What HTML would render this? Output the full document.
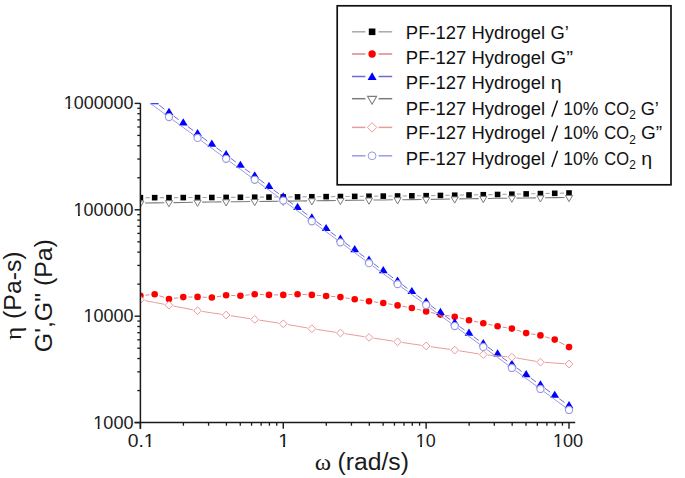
<!DOCTYPE html>
<html><head><meta charset="utf-8"><style>
html,body{margin:0;padding:0;background:#fff;}
body{width:685px;height:478px;overflow:hidden;font-family:"Liberation Sans",sans-serif;}
svg{position:absolute;left:0;top:0;display:block;}
</style></head><body>
<svg width="685" height="478" viewBox="0 0 685 478">
<defs><clipPath id="pc"><rect x="140.4" y="103.3" width="434.6" height="319.3"/></clipPath></defs>
<rect width="685" height="478" fill="#fff"/>
<g clip-path="url(#pc)">
<path d="M145.40 197.69L149.69 197.67M159.69 197.65L163.97 197.63M173.97 197.61L178.26 197.59M188.26 197.57L192.55 197.55M202.55 197.53L206.84 197.51M216.83 197.47L221.12 197.43M231.12 197.37L235.41 197.33M245.41 197.27L249.70 197.23M259.70 197.17L263.98 197.13M273.98 197.07L278.27 197.03M288.27 196.96L292.56 196.92M302.56 196.84L306.84 196.80M316.84 196.72L321.13 196.68M331.13 196.60L335.42 196.56M345.42 196.48L349.71 196.44M359.70 196.35L363.99 196.31M373.99 196.21L378.28 196.17M388.28 196.07L392.57 196.03M402.57 195.93L406.85 195.89M416.85 195.79L421.14 195.75M431.14 195.62L435.43 195.54M445.43 195.38L449.71 195.30M459.71 195.14L464.00 195.06M474.00 194.90L478.29 194.82M488.29 194.66L492.58 194.58M502.57 194.40L506.86 194.30M516.86 194.10L521.15 194.00M531.15 193.80L535.44 193.70M545.43 193.50L549.72 193.40M559.72 193.20L564.01 193.10" fill="none" stroke="#a8a8a8" stroke-width="1.1"/>
<rect x="137.60" y="194.90" width="5.6" height="5.6" fill="#000"/>
<rect x="151.89" y="194.86" width="5.6" height="5.6" fill="#000"/>
<rect x="166.17" y="194.82" width="5.6" height="5.6" fill="#000"/>
<rect x="180.46" y="194.78" width="5.6" height="5.6" fill="#000"/>
<rect x="194.75" y="194.74" width="5.6" height="5.6" fill="#000"/>
<rect x="209.03" y="194.70" width="5.6" height="5.6" fill="#000"/>
<rect x="223.32" y="194.60" width="5.6" height="5.6" fill="#000"/>
<rect x="237.61" y="194.50" width="5.6" height="5.6" fill="#000"/>
<rect x="251.90" y="194.40" width="5.6" height="5.6" fill="#000"/>
<rect x="266.18" y="194.30" width="5.6" height="5.6" fill="#000"/>
<rect x="280.47" y="194.20" width="5.6" height="5.6" fill="#000"/>
<rect x="294.76" y="194.08" width="5.6" height="5.6" fill="#000"/>
<rect x="309.04" y="193.96" width="5.6" height="5.6" fill="#000"/>
<rect x="323.33" y="193.84" width="5.6" height="5.6" fill="#000"/>
<rect x="337.62" y="193.72" width="5.6" height="5.6" fill="#000"/>
<rect x="351.91" y="193.60" width="5.6" height="5.6" fill="#000"/>
<rect x="366.19" y="193.46" width="5.6" height="5.6" fill="#000"/>
<rect x="380.48" y="193.32" width="5.6" height="5.6" fill="#000"/>
<rect x="394.77" y="193.18" width="5.6" height="5.6" fill="#000"/>
<rect x="409.05" y="193.04" width="5.6" height="5.6" fill="#000"/>
<rect x="423.34" y="192.90" width="5.6" height="5.6" fill="#000"/>
<rect x="437.63" y="192.66" width="5.6" height="5.6" fill="#000"/>
<rect x="451.91" y="192.42" width="5.6" height="5.6" fill="#000"/>
<rect x="466.20" y="192.18" width="5.6" height="5.6" fill="#000"/>
<rect x="480.49" y="191.94" width="5.6" height="5.6" fill="#000"/>
<rect x="494.78" y="191.70" width="5.6" height="5.6" fill="#000"/>
<rect x="509.06" y="191.40" width="5.6" height="5.6" fill="#000"/>
<rect x="523.35" y="191.10" width="5.6" height="5.6" fill="#000"/>
<rect x="537.64" y="190.80" width="5.6" height="5.6" fill="#000"/>
<rect x="551.92" y="190.50" width="5.6" height="5.6" fill="#000"/>
<rect x="566.21" y="190.20" width="5.6" height="5.6" fill="#000"/>
<path d="M145.47 295.23L149.62 294.77M159.52 295.82L164.14 297.38M174.03 298.33L178.21 297.77M188.36 297.03L192.45 296.97M202.64 297.11L206.74 297.29M216.88 296.72L221.08 296.08M231.22 295.48L235.31 295.62M245.48 295.23L249.63 294.77M259.79 294.45L263.89 294.65M274.08 294.90L278.17 294.90M288.36 294.65L292.46 294.45M302.65 294.45L306.75 294.65M316.93 295.29L321.05 295.61M331.22 296.39L335.33 296.71M345.46 297.88L349.66 298.52M359.76 300.01L363.94 300.59M374.06 301.90L378.21 302.40M388.31 303.84L392.54 304.56M402.58 306.31L406.84 307.09M416.81 309.18L421.18 310.22M431.12 312.51L435.45 313.49M445.47 315.34L449.67 315.96M459.67 317.91L464.05 318.99M473.99 321.25L478.30 322.15M488.27 324.28L492.59 325.22M502.61 327.11L506.83 327.79M516.73 330.13L521.28 331.57M531.18 333.91L535.40 334.59M545.33 336.84L549.83 338.16M559.24 341.97L564.49 344.73" fill="none" stroke="#e08686" stroke-width="1.0"/>
<circle cx="140.40" cy="295.80" r="3.3" fill="#ff0000"/>
<circle cx="154.69" cy="294.20" r="3.3" fill="#ff0000"/>
<circle cx="168.97" cy="299.00" r="3.3" fill="#ff0000"/>
<circle cx="183.26" cy="297.10" r="3.3" fill="#ff0000"/>
<circle cx="197.55" cy="296.90" r="3.3" fill="#ff0000"/>
<circle cx="211.84" cy="297.50" r="3.3" fill="#ff0000"/>
<circle cx="226.12" cy="295.30" r="3.3" fill="#ff0000"/>
<circle cx="240.41" cy="295.80" r="3.3" fill="#ff0000"/>
<circle cx="254.70" cy="294.20" r="3.3" fill="#ff0000"/>
<circle cx="268.98" cy="294.90" r="3.3" fill="#ff0000"/>
<circle cx="283.27" cy="294.90" r="3.3" fill="#ff0000"/>
<circle cx="297.56" cy="294.20" r="3.3" fill="#ff0000"/>
<circle cx="311.84" cy="294.90" r="3.3" fill="#ff0000"/>
<circle cx="326.13" cy="296.00" r="3.3" fill="#ff0000"/>
<circle cx="340.42" cy="297.10" r="3.3" fill="#ff0000"/>
<circle cx="354.71" cy="299.30" r="3.3" fill="#ff0000"/>
<circle cx="368.99" cy="301.30" r="3.3" fill="#ff0000"/>
<circle cx="383.28" cy="303.00" r="3.3" fill="#ff0000"/>
<circle cx="397.57" cy="305.40" r="3.3" fill="#ff0000"/>
<circle cx="411.85" cy="308.00" r="3.3" fill="#ff0000"/>
<circle cx="426.14" cy="311.40" r="3.3" fill="#ff0000"/>
<circle cx="440.43" cy="314.60" r="3.3" fill="#ff0000"/>
<circle cx="454.71" cy="316.70" r="3.3" fill="#ff0000"/>
<circle cx="469.00" cy="320.20" r="3.3" fill="#ff0000"/>
<circle cx="483.29" cy="323.20" r="3.3" fill="#ff0000"/>
<circle cx="497.58" cy="326.30" r="3.3" fill="#ff0000"/>
<circle cx="511.86" cy="328.60" r="3.3" fill="#ff0000"/>
<circle cx="526.15" cy="333.10" r="3.3" fill="#ff0000"/>
<circle cx="540.44" cy="335.40" r="3.3" fill="#ff0000"/>
<circle cx="554.72" cy="339.60" r="3.3" fill="#ff0000"/>
<circle cx="569.01" cy="347.10" r="3.3" fill="#ff0000"/>
<path d="M144.90 94.61L150.19 98.53M159.17 105.21L164.49 109.19M173.47 115.88L178.76 119.80M187.76 126.47L193.05 130.40M202.04 137.08L207.34 141.02M216.34 147.69L221.61 151.57M230.63 158.22L235.91 162.12M244.92 168.77L250.19 172.66M259.20 179.31L264.48 183.22M273.49 189.87L278.77 193.77M287.78 200.42L293.05 204.31M302.06 210.95L307.34 214.85M316.35 221.50L321.63 225.40M330.64 232.05L335.91 235.94M344.92 242.60L350.20 246.50M359.22 253.14L364.47 256.99M373.51 263.60L378.76 267.45M387.80 274.06L393.05 277.91M402.08 284.53L407.33 288.37M416.37 294.99L421.62 298.84M430.67 305.44L435.90 309.25M444.96 315.84L450.19 319.65M459.24 326.24L464.47 330.04M473.53 336.63L478.76 340.44M487.82 347.03L493.05 350.83M502.11 357.40L507.32 361.17M516.40 367.73L521.61 371.50M530.69 378.06L535.90 381.83M544.97 388.39L550.18 392.16M559.26 398.72L564.47 402.49" fill="none" stroke="#6c6cd4" stroke-width="1.0"/>
<polygon points="140.40,86.47 144.80,93.67 136.00,93.67" fill="#0000ff"/>
<polygon points="154.69,97.06 159.09,104.26 150.29,104.26" fill="#0000ff"/>
<polygon points="168.97,107.74 173.37,114.94 164.57,114.94" fill="#0000ff"/>
<polygon points="183.26,118.33 187.66,125.53 178.86,125.53" fill="#0000ff"/>
<polygon points="197.55,128.94 201.95,136.14 193.15,136.14" fill="#0000ff"/>
<polygon points="211.84,139.56 216.24,146.76 207.44,146.76" fill="#0000ff"/>
<polygon points="226.12,150.09 230.52,157.29 221.72,157.29" fill="#0000ff"/>
<polygon points="240.41,160.65 244.81,167.85 236.01,167.85" fill="#0000ff"/>
<polygon points="254.70,171.18 259.10,178.38 250.30,178.38" fill="#0000ff"/>
<polygon points="268.98,181.75 273.38,188.95 264.58,188.95" fill="#0000ff"/>
<polygon points="283.27,192.30 287.67,199.50 278.87,199.50" fill="#0000ff"/>
<polygon points="297.56,202.83 301.96,210.03 293.16,210.03" fill="#0000ff"/>
<polygon points="311.84,213.37 316.24,220.57 307.44,220.57" fill="#0000ff"/>
<polygon points="326.13,223.92 330.53,231.12 321.73,231.12" fill="#0000ff"/>
<polygon points="340.42,234.47 344.82,241.67 336.02,241.67" fill="#0000ff"/>
<polygon points="354.71,245.03 359.11,252.23 350.31,252.23" fill="#0000ff"/>
<polygon points="368.99,255.50 373.39,262.70 364.59,262.70" fill="#0000ff"/>
<polygon points="383.28,265.95 387.68,273.15 378.88,273.15" fill="#0000ff"/>
<polygon points="397.57,276.42 401.97,283.62 393.17,283.62" fill="#0000ff"/>
<polygon points="411.85,286.88 416.25,294.08 407.45,294.08" fill="#0000ff"/>
<polygon points="426.14,297.35 430.54,304.55 421.74,304.55" fill="#0000ff"/>
<polygon points="440.43,307.75 444.83,314.95 436.03,314.95" fill="#0000ff"/>
<polygon points="454.71,318.14 459.11,325.34 450.31,325.34" fill="#0000ff"/>
<polygon points="469.00,328.54 473.40,335.74 464.60,335.74" fill="#0000ff"/>
<polygon points="483.29,338.93 487.69,346.13 478.89,346.13" fill="#0000ff"/>
<polygon points="497.58,349.32 501.98,356.52 493.18,356.52" fill="#0000ff"/>
<polygon points="511.86,359.65 516.26,366.85 507.46,366.85" fill="#0000ff"/>
<polygon points="526.15,369.98 530.55,377.18 521.75,377.18" fill="#0000ff"/>
<polygon points="540.44,380.31 544.84,387.51 536.04,387.51" fill="#0000ff"/>
<polygon points="554.72,390.64 559.12,397.84 550.32,397.84" fill="#0000ff"/>
<polygon points="569.01,400.97 573.41,408.17 564.61,408.17" fill="#0000ff"/>
<path d="M145.00 203.03L154.69 202.88M154.69 202.88L164.37 202.73M173.57 202.59L183.26 202.44M183.26 202.44L192.95 202.29M202.15 202.15L211.84 202.00M211.84 202.00L221.52 201.89M230.72 201.79L240.41 201.68M240.41 201.68L250.10 201.57M259.30 201.47L268.98 201.36M268.98 201.36L278.67 201.25M287.87 201.14L297.56 201.02M297.56 201.02L307.24 200.90M316.44 200.78L326.13 200.66M326.13 200.66L335.82 200.54M345.02 200.42L354.71 200.30M354.71 200.30L364.39 200.18M373.59 200.06L383.28 199.94M383.28 199.94L392.97 199.82M402.17 199.70L411.85 199.58M411.85 199.58L421.54 199.46M430.74 199.33L440.43 199.18M440.43 199.18L450.11 199.03M459.31 198.89L469.00 198.74M469.00 198.74L478.69 198.59M487.89 198.45L497.58 198.30M497.58 198.30L507.26 198.19M516.46 198.09L526.15 197.98M526.15 197.98L535.84 197.87M545.04 197.77L554.72 197.66M554.72 197.66L564.41 197.55" fill="none" stroke="#7c7c7c" stroke-width="1.1"/>
<polygon points="136.80,201.02 144.00,201.02 140.40,207.26" fill="#fff" stroke="#7c7c7c" stroke-width="1.0"/>
<polygon points="165.37,200.58 172.57,200.58 168.97,206.82" fill="#fff" stroke="#7c7c7c" stroke-width="1.0"/>
<polygon points="193.95,200.14 201.15,200.14 197.55,206.38" fill="#fff" stroke="#7c7c7c" stroke-width="1.0"/>
<polygon points="222.52,199.76 229.72,199.76 226.12,206.00" fill="#fff" stroke="#7c7c7c" stroke-width="1.0"/>
<polygon points="251.10,199.44 258.30,199.44 254.70,205.68" fill="#fff" stroke="#7c7c7c" stroke-width="1.0"/>
<polygon points="279.67,199.12 286.87,199.12 283.27,205.36" fill="#fff" stroke="#7c7c7c" stroke-width="1.0"/>
<polygon points="308.24,198.76 315.44,198.76 311.84,205.00" fill="#fff" stroke="#7c7c7c" stroke-width="1.0"/>
<polygon points="336.82,198.40 344.02,198.40 340.42,204.64" fill="#fff" stroke="#7c7c7c" stroke-width="1.0"/>
<polygon points="365.39,198.04 372.59,198.04 368.99,204.28" fill="#fff" stroke="#7c7c7c" stroke-width="1.0"/>
<polygon points="393.97,197.68 401.17,197.68 397.57,203.92" fill="#fff" stroke="#7c7c7c" stroke-width="1.0"/>
<polygon points="422.54,197.32 429.74,197.32 426.14,203.56" fill="#fff" stroke="#7c7c7c" stroke-width="1.0"/>
<polygon points="451.11,196.88 458.31,196.88 454.71,203.12" fill="#fff" stroke="#7c7c7c" stroke-width="1.0"/>
<polygon points="479.69,196.44 486.89,196.44 483.29,202.68" fill="#fff" stroke="#7c7c7c" stroke-width="1.0"/>
<polygon points="508.26,196.06 515.46,196.06 511.86,202.30" fill="#fff" stroke="#7c7c7c" stroke-width="1.0"/>
<polygon points="536.84,195.74 544.04,195.74 540.44,201.98" fill="#fff" stroke="#7c7c7c" stroke-width="1.0"/>
<polygon points="565.41,195.42 572.61,195.42 569.01,201.66" fill="#fff" stroke="#7c7c7c" stroke-width="1.0"/>
<path d="M144.92 300.57L154.69 302.45M154.69 302.45L164.46 304.33M173.49 306.07L183.26 307.95M183.26 307.95L193.03 309.83M202.10 311.38L211.84 312.85M211.84 312.85L221.57 314.32M230.67 315.70L240.41 317.20M240.41 317.20L250.15 318.70M259.24 320.10L268.98 321.60M268.98 321.60L278.72 323.10M287.80 324.58L297.56 326.25M297.56 326.25L307.31 327.92M316.39 329.38L326.13 330.85M326.13 330.85L335.87 332.32M344.96 333.70L354.71 335.20M354.71 335.20L364.45 336.70M373.54 338.10L383.28 339.60M383.28 339.60L393.02 341.10M402.12 342.47L411.85 343.90M411.85 343.90L421.59 345.33M430.69 346.65L440.43 348.05M440.43 348.05L450.16 349.45M459.26 350.82L469.00 352.35M469.00 352.35L478.74 353.88M487.87 355.02L497.58 355.90M497.58 355.90L507.28 356.78M516.40 357.98L526.15 359.65M526.15 359.65L535.90 361.32M545.03 362.41L554.72 363.05M554.72 363.05L564.42 363.69" fill="none" stroke="#e89c9c" stroke-width="1.0"/>
<polygon points="140.40,295.80 144.30,299.70 140.40,303.60 136.50,299.70" fill="#fff" stroke="#e89c9c" stroke-width="1.0"/>
<polygon points="168.97,301.30 172.87,305.20 168.97,309.10 165.07,305.20" fill="#fff" stroke="#e89c9c" stroke-width="1.0"/>
<polygon points="197.55,306.80 201.45,310.70 197.55,314.60 193.65,310.70" fill="#fff" stroke="#e89c9c" stroke-width="1.0"/>
<polygon points="226.12,311.10 230.02,315.00 226.12,318.90 222.22,315.00" fill="#fff" stroke="#e89c9c" stroke-width="1.0"/>
<polygon points="254.70,315.50 258.60,319.40 254.70,323.30 250.80,319.40" fill="#fff" stroke="#e89c9c" stroke-width="1.0"/>
<polygon points="283.27,319.90 287.17,323.80 283.27,327.70 279.37,323.80" fill="#fff" stroke="#e89c9c" stroke-width="1.0"/>
<polygon points="311.84,324.80 315.74,328.70 311.84,332.60 307.94,328.70" fill="#fff" stroke="#e89c9c" stroke-width="1.0"/>
<polygon points="340.42,329.10 344.32,333.00 340.42,336.90 336.52,333.00" fill="#fff" stroke="#e89c9c" stroke-width="1.0"/>
<polygon points="368.99,333.50 372.89,337.40 368.99,341.30 365.09,337.40" fill="#fff" stroke="#e89c9c" stroke-width="1.0"/>
<polygon points="397.57,337.90 401.47,341.80 397.57,345.70 393.67,341.80" fill="#fff" stroke="#e89c9c" stroke-width="1.0"/>
<polygon points="426.14,342.10 430.04,346.00 426.14,349.90 422.24,346.00" fill="#fff" stroke="#e89c9c" stroke-width="1.0"/>
<polygon points="454.71,346.20 458.61,350.10 454.71,354.00 450.81,350.10" fill="#fff" stroke="#e89c9c" stroke-width="1.0"/>
<polygon points="483.29,350.70 487.19,354.60 483.29,358.50 479.39,354.60" fill="#fff" stroke="#e89c9c" stroke-width="1.0"/>
<polygon points="511.86,353.30 515.76,357.20 511.86,361.10 507.96,357.20" fill="#fff" stroke="#e89c9c" stroke-width="1.0"/>
<polygon points="540.44,358.20 544.34,362.10 540.44,366.00 536.54,362.10" fill="#fff" stroke="#e89c9c" stroke-width="1.0"/>
<polygon points="569.01,360.10 572.91,364.00 569.01,367.90 565.11,364.00" fill="#fff" stroke="#e89c9c" stroke-width="1.0"/>
<path d="M143.79 98.63L154.69 106.60M154.69 106.60L165.58 114.56M172.37 119.52L183.26 127.48M183.26 127.48L194.16 135.44M200.94 140.40L211.84 148.35M211.84 148.35L222.74 156.35M229.51 161.32L240.41 169.32M240.41 169.32L251.31 177.32M258.09 182.27L268.98 190.19M268.98 190.19L279.87 198.12M286.67 203.05L297.56 210.96M297.56 210.96L308.45 218.86M315.23 223.81L326.13 231.80M326.13 231.80L337.03 239.78M343.81 244.75L354.71 252.73M354.71 252.73L365.60 260.72M372.38 265.68L383.28 273.67M383.28 273.67L394.18 281.65M400.95 286.61L411.85 294.60M411.85 294.60L422.75 302.58M429.53 307.54L440.43 315.53M440.43 315.53L451.33 323.52M458.10 328.49L469.00 336.48M469.00 336.48L479.90 344.47M486.68 349.44L497.58 357.42M497.58 357.42L508.48 365.46M515.25 370.44L526.15 378.46M526.15 378.46L537.05 386.48M543.82 391.46L554.72 399.48M554.72 399.48L565.63 407.49" fill="none" stroke="#9a9ae4" stroke-width="1.0"/>
<circle cx="140.40" cy="96.15" r="3.55" fill="#fff" stroke="#9a9ae4" stroke-width="1.15"/>
<circle cx="168.97" cy="117.04" r="3.55" fill="#fff" stroke="#9a9ae4" stroke-width="1.15"/>
<circle cx="197.55" cy="137.92" r="3.55" fill="#fff" stroke="#9a9ae4" stroke-width="1.15"/>
<circle cx="226.12" cy="158.83" r="3.55" fill="#fff" stroke="#9a9ae4" stroke-width="1.15"/>
<circle cx="254.70" cy="179.80" r="3.55" fill="#fff" stroke="#9a9ae4" stroke-width="1.15"/>
<circle cx="283.27" cy="200.59" r="3.55" fill="#fff" stroke="#9a9ae4" stroke-width="1.15"/>
<circle cx="311.84" cy="221.33" r="3.55" fill="#fff" stroke="#9a9ae4" stroke-width="1.15"/>
<circle cx="340.42" cy="242.27" r="3.55" fill="#fff" stroke="#9a9ae4" stroke-width="1.15"/>
<circle cx="368.99" cy="263.20" r="3.55" fill="#fff" stroke="#9a9ae4" stroke-width="1.15"/>
<circle cx="397.57" cy="284.13" r="3.55" fill="#fff" stroke="#9a9ae4" stroke-width="1.15"/>
<circle cx="426.14" cy="305.06" r="3.55" fill="#fff" stroke="#9a9ae4" stroke-width="1.15"/>
<circle cx="454.71" cy="326.01" r="3.55" fill="#fff" stroke="#9a9ae4" stroke-width="1.15"/>
<circle cx="483.29" cy="346.95" r="3.55" fill="#fff" stroke="#9a9ae4" stroke-width="1.15"/>
<circle cx="511.86" cy="367.96" r="3.55" fill="#fff" stroke="#9a9ae4" stroke-width="1.15"/>
<circle cx="540.44" cy="388.97" r="3.55" fill="#fff" stroke="#9a9ae4" stroke-width="1.15"/>
<circle cx="569.01" cy="409.98" r="3.55" fill="#fff" stroke="#9a9ae4" stroke-width="1.15"/>
</g>
<line x1="140.4" y1="103.3" x2="140.4" y2="428.8" stroke="#1a1a1a" stroke-width="1.5"/>
<line x1="134.6" y1="422.6" x2="575.2" y2="422.6" stroke="#1a1a1a" stroke-width="1.5"/>
<line x1="134.6" y1="422.60" x2="140.4" y2="422.60" stroke="#1a1a1a" stroke-width="1.4"/>
<line x1="137.3" y1="390.57" x2="140.4" y2="390.57" stroke="#1a1a1a" stroke-width="1.3"/>
<line x1="137.3" y1="371.83" x2="140.4" y2="371.83" stroke="#1a1a1a" stroke-width="1.3"/>
<line x1="137.3" y1="358.54" x2="140.4" y2="358.54" stroke="#1a1a1a" stroke-width="1.3"/>
<line x1="137.3" y1="348.23" x2="140.4" y2="348.23" stroke="#1a1a1a" stroke-width="1.3"/>
<line x1="137.3" y1="339.80" x2="140.4" y2="339.80" stroke="#1a1a1a" stroke-width="1.3"/>
<line x1="137.3" y1="332.68" x2="140.4" y2="332.68" stroke="#1a1a1a" stroke-width="1.3"/>
<line x1="137.3" y1="326.51" x2="140.4" y2="326.51" stroke="#1a1a1a" stroke-width="1.3"/>
<line x1="137.3" y1="321.07" x2="140.4" y2="321.07" stroke="#1a1a1a" stroke-width="1.3"/>
<line x1="134.6" y1="316.20" x2="140.4" y2="316.20" stroke="#1a1a1a" stroke-width="1.4"/>
<line x1="137.3" y1="284.17" x2="140.4" y2="284.17" stroke="#1a1a1a" stroke-width="1.3"/>
<line x1="137.3" y1="265.43" x2="140.4" y2="265.43" stroke="#1a1a1a" stroke-width="1.3"/>
<line x1="137.3" y1="252.14" x2="140.4" y2="252.14" stroke="#1a1a1a" stroke-width="1.3"/>
<line x1="137.3" y1="241.83" x2="140.4" y2="241.83" stroke="#1a1a1a" stroke-width="1.3"/>
<line x1="137.3" y1="233.40" x2="140.4" y2="233.40" stroke="#1a1a1a" stroke-width="1.3"/>
<line x1="137.3" y1="226.28" x2="140.4" y2="226.28" stroke="#1a1a1a" stroke-width="1.3"/>
<line x1="137.3" y1="220.11" x2="140.4" y2="220.11" stroke="#1a1a1a" stroke-width="1.3"/>
<line x1="137.3" y1="214.67" x2="140.4" y2="214.67" stroke="#1a1a1a" stroke-width="1.3"/>
<line x1="134.6" y1="209.80" x2="140.4" y2="209.80" stroke="#1a1a1a" stroke-width="1.4"/>
<line x1="137.3" y1="177.77" x2="140.4" y2="177.77" stroke="#1a1a1a" stroke-width="1.3"/>
<line x1="137.3" y1="159.03" x2="140.4" y2="159.03" stroke="#1a1a1a" stroke-width="1.3"/>
<line x1="137.3" y1="145.74" x2="140.4" y2="145.74" stroke="#1a1a1a" stroke-width="1.3"/>
<line x1="137.3" y1="135.43" x2="140.4" y2="135.43" stroke="#1a1a1a" stroke-width="1.3"/>
<line x1="137.3" y1="127.00" x2="140.4" y2="127.00" stroke="#1a1a1a" stroke-width="1.3"/>
<line x1="137.3" y1="119.88" x2="140.4" y2="119.88" stroke="#1a1a1a" stroke-width="1.3"/>
<line x1="137.3" y1="113.71" x2="140.4" y2="113.71" stroke="#1a1a1a" stroke-width="1.3"/>
<line x1="137.3" y1="108.27" x2="140.4" y2="108.27" stroke="#1a1a1a" stroke-width="1.3"/>
<line x1="134.6" y1="103.40" x2="140.4" y2="103.40" stroke="#1a1a1a" stroke-width="1.4"/>
<line x1="140.40" y1="422.6" x2="140.40" y2="428.8" stroke="#1a1a1a" stroke-width="1.4"/>
<line x1="183.41" y1="422.6" x2="183.41" y2="425.7" stroke="#1a1a1a" stroke-width="1.3"/>
<line x1="208.57" y1="422.6" x2="208.57" y2="425.7" stroke="#1a1a1a" stroke-width="1.3"/>
<line x1="226.42" y1="422.6" x2="226.42" y2="425.7" stroke="#1a1a1a" stroke-width="1.3"/>
<line x1="240.26" y1="422.6" x2="240.26" y2="425.7" stroke="#1a1a1a" stroke-width="1.3"/>
<line x1="251.57" y1="422.6" x2="251.57" y2="425.7" stroke="#1a1a1a" stroke-width="1.3"/>
<line x1="261.14" y1="422.6" x2="261.14" y2="425.7" stroke="#1a1a1a" stroke-width="1.3"/>
<line x1="269.42" y1="422.6" x2="269.42" y2="425.7" stroke="#1a1a1a" stroke-width="1.3"/>
<line x1="276.73" y1="422.6" x2="276.73" y2="425.7" stroke="#1a1a1a" stroke-width="1.3"/>
<line x1="283.27" y1="422.6" x2="283.27" y2="428.8" stroke="#1a1a1a" stroke-width="1.4"/>
<line x1="326.28" y1="422.6" x2="326.28" y2="425.7" stroke="#1a1a1a" stroke-width="1.3"/>
<line x1="351.44" y1="422.6" x2="351.44" y2="425.7" stroke="#1a1a1a" stroke-width="1.3"/>
<line x1="369.29" y1="422.6" x2="369.29" y2="425.7" stroke="#1a1a1a" stroke-width="1.3"/>
<line x1="383.13" y1="422.6" x2="383.13" y2="425.7" stroke="#1a1a1a" stroke-width="1.3"/>
<line x1="394.44" y1="422.6" x2="394.44" y2="425.7" stroke="#1a1a1a" stroke-width="1.3"/>
<line x1="404.01" y1="422.6" x2="404.01" y2="425.7" stroke="#1a1a1a" stroke-width="1.3"/>
<line x1="412.29" y1="422.6" x2="412.29" y2="425.7" stroke="#1a1a1a" stroke-width="1.3"/>
<line x1="419.60" y1="422.6" x2="419.60" y2="425.7" stroke="#1a1a1a" stroke-width="1.3"/>
<line x1="426.14" y1="422.6" x2="426.14" y2="428.8" stroke="#1a1a1a" stroke-width="1.4"/>
<line x1="469.15" y1="422.6" x2="469.15" y2="425.7" stroke="#1a1a1a" stroke-width="1.3"/>
<line x1="494.31" y1="422.6" x2="494.31" y2="425.7" stroke="#1a1a1a" stroke-width="1.3"/>
<line x1="512.16" y1="422.6" x2="512.16" y2="425.7" stroke="#1a1a1a" stroke-width="1.3"/>
<line x1="526.00" y1="422.6" x2="526.00" y2="425.7" stroke="#1a1a1a" stroke-width="1.3"/>
<line x1="537.31" y1="422.6" x2="537.31" y2="425.7" stroke="#1a1a1a" stroke-width="1.3"/>
<line x1="546.88" y1="422.6" x2="546.88" y2="425.7" stroke="#1a1a1a" stroke-width="1.3"/>
<line x1="555.16" y1="422.6" x2="555.16" y2="425.7" stroke="#1a1a1a" stroke-width="1.3"/>
<line x1="562.47" y1="422.6" x2="562.47" y2="425.7" stroke="#1a1a1a" stroke-width="1.3"/>
<line x1="569.01" y1="422.6" x2="569.01" y2="428.8" stroke="#1a1a1a" stroke-width="1.4"/>
<text x="63.78" y="109.30" font-family="Liberation Sans, sans-serif" font-size="17.6" textLength="69.72" lengthAdjust="spacingAndGlyphs" fill="#1a1a1a">1000000</text>
<text x="73.62" y="215.70" font-family="Liberation Sans, sans-serif" font-size="17.6" textLength="59.88" lengthAdjust="spacingAndGlyphs" fill="#1a1a1a">100000</text>
<text x="83.47" y="322.10" font-family="Liberation Sans, sans-serif" font-size="17.6" textLength="50.03" lengthAdjust="spacingAndGlyphs" fill="#1a1a1a">10000</text>
<text x="93.31" y="428.50" font-family="Liberation Sans, sans-serif" font-size="17.6" textLength="40.19" lengthAdjust="spacingAndGlyphs" fill="#1a1a1a">1000</text>
<text x="127.75" y="446.60" font-family="Liberation Sans, sans-serif" font-size="17.6" textLength="26.83" lengthAdjust="spacingAndGlyphs" fill="#1a1a1a">0.1</text>
<text x="278.31" y="446.60" font-family="Liberation Sans, sans-serif" font-size="17.6" textLength="10.96" lengthAdjust="spacingAndGlyphs" fill="#1a1a1a">1</text>
<text x="415.78" y="446.60" font-family="Liberation Sans, sans-serif" font-size="17.6" textLength="19.92" lengthAdjust="spacingAndGlyphs" fill="#1a1a1a">10</text>
<text x="552.96" y="446.60" font-family="Liberation Sans, sans-serif" font-size="17.6" textLength="30.25" lengthAdjust="spacingAndGlyphs" fill="#1a1a1a">100</text>
<text x="314.73" y="469.60" font-family="Liberation Serif, serif" font-size="23" textLength="16.34" lengthAdjust="spacingAndGlyphs" fill="#1a1a1a">ω</text>
<text x="337.57" y="469.60" font-family="Liberation Sans, sans-serif" font-size="23" textLength="71.36" lengthAdjust="spacingAndGlyphs" fill="#1a1a1a">(rad/s)</text>
<text transform="translate(20.60,339.70) rotate(-90)" x="-0.39" y="0" font-family="Liberation Serif, serif" font-size="23" textLength="13.22" lengthAdjust="spacingAndGlyphs" fill="#1a1a1a">η</text>
<text transform="translate(20.60,317.40) rotate(-90)" x="-1.54" y="0" font-family="Liberation Sans, sans-serif" font-size="23" textLength="67.58" lengthAdjust="spacingAndGlyphs" fill="#1a1a1a">(Pa-s)</text>
<text transform="translate(52.30,350.90) rotate(-90)" x="-1.25" y="0" font-family="Liberation Sans, sans-serif" font-size="23" textLength="112.99" lengthAdjust="spacingAndGlyphs" fill="#1a1a1a">G',G" (Pa)</text>
<rect x="337.2" y="5.8" width="333.8" height="179" fill="none" stroke="#111" stroke-width="1.7"/>
<line x1="352" y1="31.8" x2="365.4" y2="31.8" stroke="#a8a8a8" stroke-width="1.5"/>
<line x1="378.6" y1="31.8" x2="392.2" y2="31.8" stroke="#a8a8a8" stroke-width="1.5"/>
<rect x="368.80" y="28.50" width="6.6" height="6.6" fill="#000"/>
<text x="405.89" y="38.80" font-family="Liberation Sans, sans-serif" font-size="18.3" textLength="139.24" lengthAdjust="spacingAndGlyphs" fill="#111">PF-127 Hydrogel</text>
<text x="550.58" y="38.80" font-family="Liberation Sans, sans-serif" font-size="18.3" textLength="18.36" lengthAdjust="spacingAndGlyphs" fill="#111">G’</text>
<line x1="352" y1="54.0" x2="365.4" y2="54.0" stroke="#e08686" stroke-width="1.5"/>
<line x1="378.6" y1="54.0" x2="392.2" y2="54.0" stroke="#e08686" stroke-width="1.5"/>
<circle cx="372.10" cy="54.00" r="3.7" fill="#ff0000"/>
<text x="405.89" y="64.10" font-family="Liberation Sans, sans-serif" font-size="18.3" textLength="139.24" lengthAdjust="spacingAndGlyphs" fill="#111">PF-127 Hydrogel</text>
<text x="550.48" y="64.10" font-family="Liberation Sans, sans-serif" font-size="18.3" textLength="22.46" lengthAdjust="spacingAndGlyphs" fill="#111">G”</text>
<line x1="352" y1="76.5" x2="365.4" y2="76.5" stroke="#6c6cd4" stroke-width="1.5"/>
<line x1="378.6" y1="76.5" x2="392.2" y2="76.5" stroke="#6c6cd4" stroke-width="1.5"/>
<polygon points="372.10,72.20 376.60,80.00 367.60,80.00" fill="#0000ff"/>
<text x="405.89" y="88.90" font-family="Liberation Sans, sans-serif" font-size="18.3" textLength="139.24" lengthAdjust="spacingAndGlyphs" fill="#111">PF-127 Hydrogel</text>
<text x="550.79" y="88.90" font-family="Liberation Sans, sans-serif" font-size="18.3" textLength="10.88" lengthAdjust="spacingAndGlyphs" fill="#111">η</text>
<line x1="352" y1="98.7" x2="365.4" y2="98.7" stroke="#7c7c7c" stroke-width="1.5"/>
<line x1="378.6" y1="98.7" x2="392.2" y2="98.7" stroke="#7c7c7c" stroke-width="1.5"/>
<polygon points="367.60,96.40 376.60,96.40 372.10,104.20" fill="#fff" stroke="#7c7c7c" stroke-width="1.1"/>
<text x="405.89" y="114.60" font-family="Liberation Sans, sans-serif" font-size="18.3" textLength="139.24" lengthAdjust="spacingAndGlyphs" fill="#111">PF-127 Hydrogel</text>
<line x1="551.8" y1="116.80" x2="557.5" y2="100.60" stroke="#111" stroke-width="1.45"/>
<text x="563.37" y="114.60" font-family="Liberation Sans, sans-serif" font-size="18.3" textLength="35.06" lengthAdjust="spacingAndGlyphs" fill="#111">10%</text>
<text x="604.36" y="114.60" font-family="Liberation Sans, sans-serif" font-size="18.3" textLength="24.73" lengthAdjust="spacingAndGlyphs" fill="#111">CO</text>
<text x="629.20" y="119.10" font-family="Liberation Sans, sans-serif" font-size="12.8" textLength="6.59" lengthAdjust="spacingAndGlyphs" fill="#111">2</text>
<text x="640.68" y="114.60" font-family="Liberation Sans, sans-serif" font-size="18.3" textLength="18.25" lengthAdjust="spacingAndGlyphs" fill="#111">G’</text>
<line x1="352" y1="127.4" x2="365.4" y2="127.4" stroke="#e89c9c" stroke-width="1.5"/>
<line x1="378.6" y1="127.4" x2="392.2" y2="127.4" stroke="#e89c9c" stroke-width="1.5"/>
<polygon points="372.10,122.70 376.80,127.40 372.10,132.10 367.40,127.40" fill="#fff" stroke="#e89c9c" stroke-width="1.0"/>
<text x="405.89" y="139.40" font-family="Liberation Sans, sans-serif" font-size="18.3" textLength="139.24" lengthAdjust="spacingAndGlyphs" fill="#111">PF-127 Hydrogel</text>
<line x1="551.8" y1="141.60" x2="557.5" y2="125.40" stroke="#111" stroke-width="1.45"/>
<text x="563.37" y="139.40" font-family="Liberation Sans, sans-serif" font-size="18.3" textLength="35.06" lengthAdjust="spacingAndGlyphs" fill="#111">10%</text>
<text x="604.36" y="139.40" font-family="Liberation Sans, sans-serif" font-size="18.3" textLength="24.73" lengthAdjust="spacingAndGlyphs" fill="#111">CO</text>
<text x="629.20" y="143.90" font-family="Liberation Sans, sans-serif" font-size="12.8" textLength="6.59" lengthAdjust="spacingAndGlyphs" fill="#111">2</text>
<text x="641.04" y="139.40" font-family="Liberation Sans, sans-serif" font-size="18.3" textLength="21.16" lengthAdjust="spacingAndGlyphs" fill="#111">G”</text>
<line x1="352" y1="155.8" x2="365.4" y2="155.8" stroke="#9a9ae4" stroke-width="1.5"/>
<line x1="378.6" y1="155.8" x2="392.2" y2="155.8" stroke="#9a9ae4" stroke-width="1.5"/>
<circle cx="372.10" cy="155.80" r="3.9" fill="#fff" stroke="#9a9ae4" stroke-width="1.0"/>
<text x="405.89" y="164.80" font-family="Liberation Sans, sans-serif" font-size="18.3" textLength="139.24" lengthAdjust="spacingAndGlyphs" fill="#111">PF-127 Hydrogel</text>
<line x1="551.8" y1="167.00" x2="557.5" y2="150.80" stroke="#111" stroke-width="1.45"/>
<text x="563.37" y="164.80" font-family="Liberation Sans, sans-serif" font-size="18.3" textLength="35.06" lengthAdjust="spacingAndGlyphs" fill="#111">10%</text>
<text x="604.36" y="164.80" font-family="Liberation Sans, sans-serif" font-size="18.3" textLength="24.73" lengthAdjust="spacingAndGlyphs" fill="#111">CO</text>
<text x="629.20" y="169.30" font-family="Liberation Sans, sans-serif" font-size="12.8" textLength="6.59" lengthAdjust="spacingAndGlyphs" fill="#111">2</text>
<text x="641.19" y="164.80" font-family="Liberation Sans, sans-serif" font-size="18.3" textLength="10.88" lengthAdjust="spacingAndGlyphs" fill="#111">η</text>
<rect x="64.13" y="107.30" width="4.02" height="3.2" fill="#fff"/>
<rect x="69.99" y="107.30" width="3.58" height="3.2" fill="#fff"/>
<rect x="73.97" y="213.70" width="4.03" height="3.2" fill="#fff"/>
<rect x="79.85" y="213.70" width="3.58" height="3.2" fill="#fff"/>
<rect x="83.82" y="320.10" width="4.04" height="3.2" fill="#fff"/>
<rect x="89.72" y="320.10" width="3.59" height="3.2" fill="#fff"/>
<rect x="93.66" y="426.50" width="4.06" height="3.2" fill="#fff"/>
<rect x="99.58" y="426.50" width="3.61" height="3.2" fill="#fff"/>
<rect x="144.22" y="444.60" width="4.33" height="3.2" fill="#fff"/>
<rect x="150.54" y="444.60" width="3.85" height="3.2" fill="#fff"/>
<rect x="278.69" y="444.60" width="4.42" height="3.2" fill="#fff"/>
<rect x="285.14" y="444.60" width="3.93" height="3.2" fill="#fff"/>
<rect x="416.13" y="444.60" width="4.02" height="3.2" fill="#fff"/>
<rect x="422.00" y="444.60" width="3.58" height="3.2" fill="#fff"/>
<rect x="553.31" y="444.60" width="4.07" height="3.2" fill="#fff"/>
<rect x="559.25" y="444.60" width="3.62" height="3.2" fill="#fff"/>
</svg>
</body></html>
